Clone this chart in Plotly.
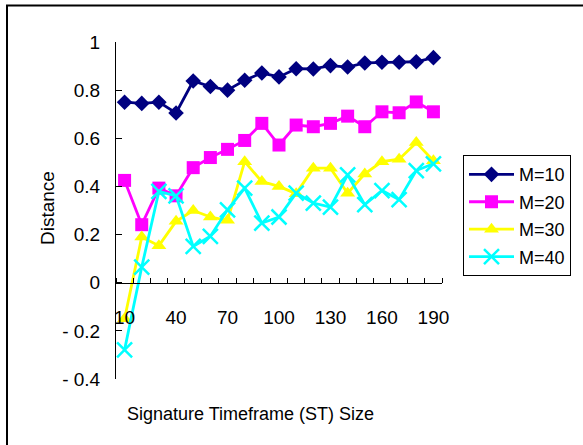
import plotly.graph_objects as go

st_size = [10, 20, 30, 40, 50, 60, 70, 80, 90, 100, 110, 120, 130, 140, 150, 160, 170, 180, 190]
m10 = [0.75, 0.745, 0.75, 0.705, 0.838, 0.815, 0.80, 0.841, 0.871, 0.855, 0.889, 0.888, 0.902, 0.896, 0.913, 0.916, 0.916, 0.918, 0.935]
m20 = [0.425, 0.241, 0.393, 0.361, 0.478, 0.52, 0.554, 0.591, 0.662, 0.572, 0.655, 0.648, 0.662, 0.692, 0.648, 0.71, 0.706, 0.751, 0.71]
m30 = [-0.15, 0.19, 0.154, 0.255, 0.30, 0.273, 0.259, 0.503, 0.42, 0.40, 0.37, 0.476, 0.476, 0.372, 0.452, 0.503, 0.513, 0.582, 0.507]
m40 = [-0.279, 0.065, 0.379, 0.361, 0.151, 0.193, 0.303, 0.393, 0.248, 0.273, 0.372, 0.331, 0.314, 0.448, 0.324, 0.383, 0.345, 0.466, 0.494]

x_ticks = [10, 40, 70, 100, 130, 160, 190]
y_ticks = [-0.4, -0.2, 0, 0.2, 0.4, 0.6, 0.8, 1]
y_ticktext = ["- 0.4", "- 0.2", "0", "0.2", "0.4", "0.6", "0.8", "1"]

FONT = "Liberation Sans, Arial, sans-serif"

fig = go.Figure()
series = [
    ("M=10", m10, "#000080", "diamond", 12),
    ("M=20", m20, "#FF00FF", "square", 13),
    ("M=30", m30, "#FFFF00", "triangle-up", 13),
    ("M=40", m40, "#00FFFF", "x-thin", 15),
]
for name, vals, color, sym, size in series:
    marker = dict(symbol=sym, size=size, color=color)
    if sym == "x-thin":
        marker["line"] = dict(color=color, width=2.5)
    else:
        marker["line"] = dict(width=0)
    fig.add_trace(go.Scatter(
        x=st_size, y=vals, name=name, mode="lines+markers",
        line=dict(color=color, width=2.8), marker=marker,
        legendgroup=name, cliponaxis=False,
    ))

L, R, T, B = 116, 583 - 442, 41.6, 445 - 379.3
pw = 583 - L - R
ph = 445 - T - B

fig.update_layout(
    width=583, height=445,
    margin=dict(l=L, r=R, t=T, b=B, pad=0),
    paper_bgcolor="white", plot_bgcolor="white",
    font=dict(family=FONT, size=18, color="black"),
    showlegend=True,
    legend=dict(
        x=(463 - L) / pw, y=(445 - B - 155) / ph, xanchor="left", yanchor="top",
        bgcolor="white", bordercolor="black", borderwidth=1,
        font=dict(family=FONT, size=18, color="black"),
        tracegroupgap=1, traceorder="grouped", itemwidth=45,
    ),
    xaxis=dict(
        range=[5, 195], tickmode="array", tickvals=x_ticks,
        ticktext=[str(v) for v in x_ticks], ticks="",
        showline=True, linecolor="black", linewidth=1,
        showgrid=False, zeroline=False,
        anchor="free", position=0.4 / 1.4,
        tickfont=dict(family=FONT, size=19, color="black"),
        ticklabelstandoff=17,
        minor=dict(tickmode="linear", tick0=5, dtick=10, ticks="inside",
                   ticklen=5, tickcolor="black", tickwidth=1, showgrid=False),
    ),
    yaxis=dict(
        range=[-0.4, 1], tickmode="array", tickvals=y_ticks, ticktext=y_ticktext,
        ticks="inside", ticklen=6, tickcolor="black",
        showline=True, linecolor="black", linewidth=1,
        showgrid=False, zeroline=False,
        tickfont=dict(family=FONT, size=19, color="black"),
        ticklabelstandoff=11,
    ),
    annotations=[
        dict(text="Signature Timeframe (ST) Size", xref="paper", yref="paper",
             x=(250 - L) / pw, y=(445 - B - 414) / ph, xanchor="center", yanchor="middle",
             showarrow=False, font=dict(family=FONT, size=18, color="black")),
        dict(text="Distance", xref="paper", yref="paper", textangle=-90,
             x=(47 - L) / pw, y=(445 - B - 208) / ph, xanchor="center", yanchor="middle",
             showarrow=False, font=dict(family=FONT, size=19, color="black")),
    ],
    shapes=[
        dict(type="rect", xref="paper", yref="paper",
             x0=(7 - L) / pw, x1=(600 - L) / pw,
             y0=(445 - B - 460) / ph, y1=(445 - B - 5) / ph,
             line=dict(color="black", width=2), fillcolor="rgba(0,0,0,0)", layer="below"),
    ],
)

fig.write_html("out.html")
